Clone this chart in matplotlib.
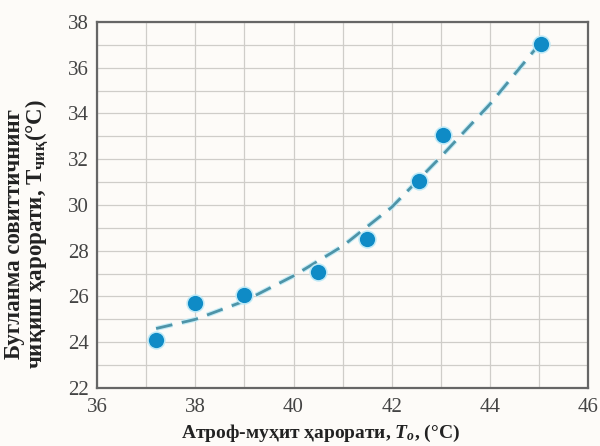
import matplotlib
matplotlib.use("Agg")
import matplotlib.pyplot as plt
import matplotlib.patheffects as pe

# Measured points
x_pts = [37.2, 38.0, 39.0, 40.5, 41.5, 42.55, 43.05, 45.05]
y_pts = [24.1, 25.7, 26.05, 27.05, 28.5, 31.05, 33.05, 37.05]

# Dashed trend line
x_fit = [37.2, 38.0, 39.0, 40.0, 41.0, 42.0, 43.0, 44.0, 45.0]
y_fit = [24.6, 25.0, 25.8, 26.9, 28.2, 29.9, 32.1, 34.4, 37.0]

x_ticks = [36, 38, 40, 42, 44, 46]
y_ticks = [22, 24, 26, 28, 30, 32, 34, 36, 38]

plt.rcParams['font.family'] = ['Liberation Serif', 'DejaVu Serif']
plt.rcParams['mathtext.fontset'] = 'custom'
plt.rcParams['mathtext.rm'] = 'Liberation Serif:bold'
plt.rcParams['mathtext.it'] = 'Liberation Serif:italic:bold'
plt.rcParams['mathtext.bf'] = 'Liberation Serif:bold'

bg = '#fdfbf8'
fig = plt.figure(figsize=(6.0, 4.46), dpi=100, facecolor=bg)
ax = fig.add_axes([0.162, 0.13, 0.818, 0.821])
ax.set_facecolor(bg)

ax.set_xlim(36, 46)
ax.set_ylim(22, 38)
ax.set_xticks(x_ticks)
ax.set_yticks(y_ticks)
ax.set_xticks(range(36, 47), minor=True)
ax.set_yticks(range(22, 39), minor=True)
ax.grid(True, which='both', color='#cfcdc9', linewidth=0.9)
ax.set_axisbelow(True)
ax.tick_params(which='both', length=0, labelsize=15, colors='#444444')
ax.tick_params(axis='x', pad=7)
ax.tick_params(axis='y', pad=6)

for s in ax.spines.values():
    s.set_color('#666666')
    s.set_linewidth(1.6)

ax.plot(x_fit, y_fit, linestyle=(0, (6, 3.5)), color='#4e94a8', linewidth=2.0, zorder=3,
        path_effects=[pe.Stroke(linewidth=3.6, foreground='#c4ecf7'), pe.Normal()])
ax.scatter(x_pts, y_pts, s=175, color='#bfe9f6', zorder=4, linewidths=0)
ax.scatter(x_pts, y_pts, s=120, color='#0f8bc6', zorder=5, linewidths=0)

ax.set_xlabel('Атроф-муҳит ҳарорати, $T_o$, (°C)', fontsize=14, fontweight='bold',
              color='#222222')
ax.xaxis.set_label_coords(0.456, -0.095)
ax.set_ylabel('Бугланма совиттичнинг\nчиқиш ҳарорати, $\\mathrm{T}_{\\mathrm{чиқ}}$(°C)',
              fontsize=16.5, fontweight='bold', color='#222222',
              linespacing=0.9)
ax.yaxis.set_label_coords(-0.095, 0.42)

fig.savefig('out.png', dpi=100, facecolor=bg)
